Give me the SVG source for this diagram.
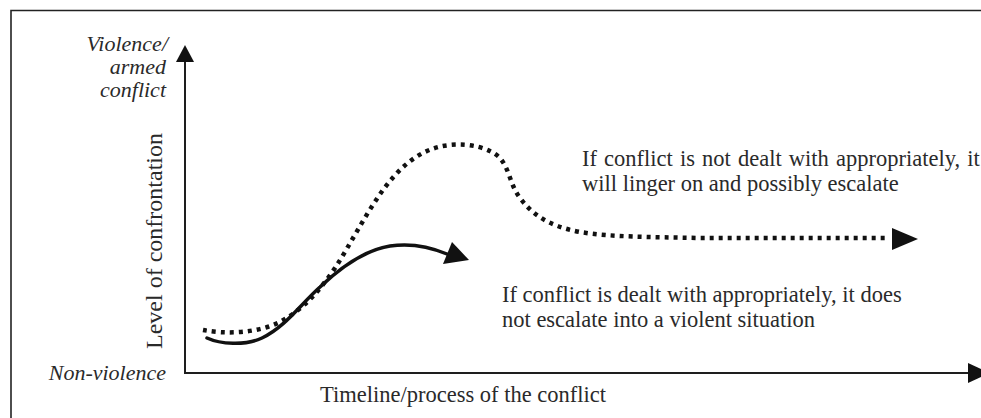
<svg xmlns="http://www.w3.org/2000/svg" width="981" height="418" viewBox="0 0 981 418">
<style>
  .axis { stroke: #1e1e1e; stroke-width: 2; fill: none; }
  .head { fill: #111; }
  .dotted { stroke: #111; stroke-width: 4.5; fill: none; stroke-dasharray: 4 5; }
  .solid { stroke: #111; stroke-width: 3.5; fill: none; stroke-linecap: round; }
</style>
<rect width="981" height="418" fill="#ffffff"/>
<g id="frame">
  <path d="M11,418 L11,10.5 L981,10.5" fill="none" stroke="#222" stroke-width="1.6"/>
</g>
<g font-family="Liberation Serif, Times New Roman, serif" font-size="22.5" fill="#2a2a2a">
<g id="y-axis">
  <line class="axis" x1="185" y1="374" x2="185" y2="58"/>
  <polygon class="head" points="176,62 185,45 194,62"/>
  <text font-style="italic" font-size="22" text-anchor="end" x="168" y="51">Violence/</text>
  <text font-style="italic" font-size="22" text-anchor="end" x="166" y="74">armed</text>
  <text font-style="italic" font-size="22" text-anchor="end" x="166" y="97">conflict</text>
  <text font-style="italic" font-size="22" text-anchor="end" x="166" y="380">Non-violence</text>
  <text font-size="24" x="0" y="0" transform="translate(162,241) rotate(-90)" text-anchor="middle">Level of confrontation</text>
</g>
<g id="x-axis">
  <line class="axis" x1="184" y1="373" x2="972" y2="373"/>
  <polygon class="head" points="968,363 990,373 968,383"/>
  <text x="320" y="402">Timeline/process of the conflict</text>
</g>
<g id="connectors">
  <path id="escalating" class="dotted" d="M203,330 C225,334 255,334 280,322 C305,308 320,290 335,268 C350,245 365,215 383,190 C400,167 420,148 450,145 C470,143 490,148 500,158 C510,170 510,185 520,198 C532,214 548,226 580,232 C610,237 650,237 700,238 L888,238"/>
  <polygon class="head" points="892,228 918,239 892,250"/>
  <path id="managed" class="solid" d="M207,338 C220,344 245,346 262,338 C285,327 300,305 320,287 C340,268 365,250 390,246 C410,243 428,246 447,254"/>
  <polygon class="head" points="452,242 469,260 443,264"/>
</g>
<g id="label-escalate">
  <text x="582" y="166" word-spacing="1.5">If conflict is not dealt with appropriately, it</text>
  <text x="582" y="191">will linger on and possibly escalate</text>
</g>
<g id="label-managed">
  <text x="502" y="302">If conflict is dealt with appropriately, it does</text>
  <text x="502" y="327">not escalate into a violent situation</text>
</g>
</g>
</svg>
